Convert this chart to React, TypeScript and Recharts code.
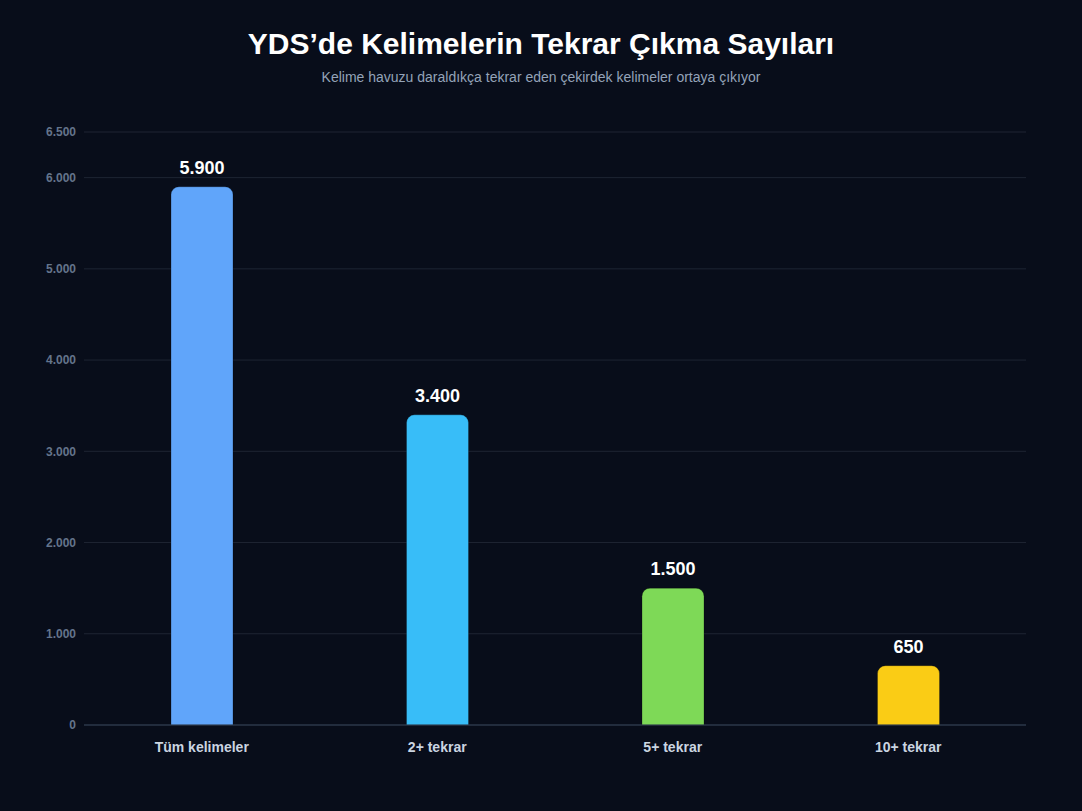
import React from "react";
import { BarChart, Bar, XAxis, YAxis, CartesianGrid, Cell, LabelList } from "recharts";

const categories = ["Tüm kelimeler", "2+ tekrar", "5+ tekrar", "10+ tekrar"];
const counts = [5900, 3400, 1500, 650];
const yTicks = [0, 1000, 2000, 3000, 4000, 5000, 6000, 6500];

const palette = ["#60a5fa", "#38bdf8", "#7ed957", "#facc15"];
const FONT = "'Liberation Sans', Arial, Helvetica, sans-serif";

const data = categories.map((name, i) => ({ name, value: counts[i] }));

const fmt = (v: number) => String(Math.round(v)).replace(/\B(?=(\d{3})+(?!\d))/g, ".");

export default function App() {
  return (
    <div
      style={{
        position: "fixed",
        left: 0,
        top: 0,
        width: 1082,
        height: 811,
        background: "#080d1a",
        fontFamily: FONT,
        overflow: "hidden",
      }}
    >
      <div
        style={{
          position: "absolute",
          top: 24,
          left: 0,
          width: 1082,
          textAlign: "center",
          color: "#ffffff",
          fontSize: 30,
          fontWeight: 700,
          lineHeight: "40px",
        }}
      >
        YDS’de Kelimelerin Tekrar Çıkma Sayıları
      </div>
      <div
        style={{
          position: "absolute",
          top: 67,
          left: 0,
          width: 1082,
          textAlign: "center",
          color: "#94a3b8",
          fontSize: 14,
          lineHeight: "20px",
        }}
      >
        Kelime havuzu daraldıkça tekrar eden çekirdek kelimeler ortaya çıkıyor
      </div>
      <div style={{ position: "absolute", left: 0, top: 0 }}>
        <BarChart
          width={1082}
          height={811}
          data={data}
          margin={{ top: 132, right: 56, left: 0, bottom: 56 }}
        >
          <CartesianGrid vertical={false} stroke="#1e2533" strokeWidth={1} />
          <XAxis
            dataKey="name"
            axisLine={{ stroke: "#334155" }}
            tickLine={false}
            tickSize={0}
            tickMargin={17}
            height={30}
            tick={{ fill: "#cbd5e1", fontSize: 14, fontWeight: 700, fontFamily: FONT }}
            interval={0}
          />
          <YAxis
            width={84}
            domain={[0, 6500]}
            ticks={yTicks}
            interval={0}
            axisLine={false}
            tickLine={false}
            tickSize={0}
            tickMargin={8}
            tickFormatter={fmt}
            tick={{ fill: "#64748b", fontSize: 12, fontWeight: 700, fontFamily: FONT }}
          />
          <Bar
            dataKey="value"
            barSize={62}
            radius={[8, 8, 0, 0]}
            isAnimationActive={false}
            stroke="rgba(0,0,0,0.25)"
            strokeWidth={1}
          >
            {data.map((d, i) => (
              <Cell key={d.name} fill={palette[i]} />
            ))}
            <LabelList
              dataKey="value"
              position="top"
              offset={13}
              formatter={(v: any) => fmt(Number(v))}
              style={{ fill: "#ffffff", fontSize: 18, fontWeight: 700, fontFamily: FONT }}
            />
          </Bar>
        </BarChart>
      </div>
    </div>
  );
}
